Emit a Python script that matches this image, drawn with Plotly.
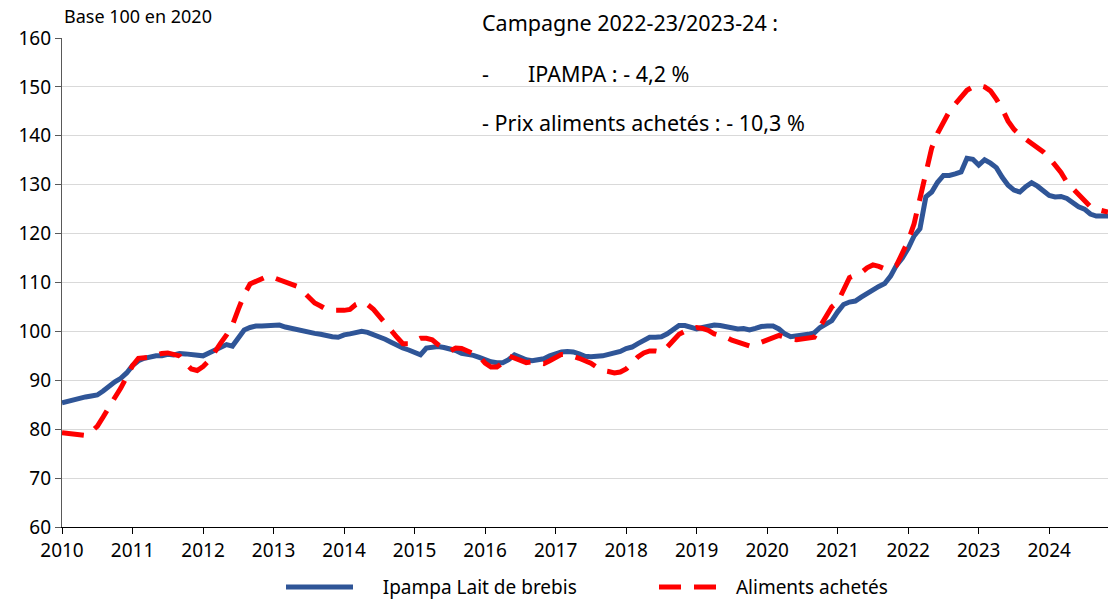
import plotly.graph_objects as go

# Monthly data, Jan 2010 .. Nov 2024 (index = months since Jan 2010)
years = list(range(2010, 2025))
tick_labels = [str(y) for y in years]

ipampa = [
    85.4, 85.7, 86.0, 86.5, 86.6, 86.8, 87.0, 87.8, 88.8, 89.7, 90.4, 91.5,   # 2010
    93.0, 94.0, 94.5, 94.8, 95.0, 95.0, 95.3, 95.2, 95.5, 95.4, 95.3, 95.2,   # 2011
    95.0, 95.6, 96.2, 96.8, 97.3, 97.0, 98.5, 100.3, 100.8, 101.1, 101.1, 101.1,  # 2012
    101.2, 101.3, 100.9, 100.6, 100.3, 100.0, 99.8, 99.6, 99.4, 99.1, 98.9, 98.8,  # 2013
    99.3, 99.5, 99.8, 100.0, 99.8, 99.4, 98.9, 98.4, 97.8, 97.1, 96.6, 96.2,  # 2014
    95.6, 95.2, 96.6, 96.7, 96.9, 96.7, 96.4, 96.1, 95.5, 95.4, 95.1, 94.7,  # 2015
    94.2, 93.8, 93.6, 93.6, 94.2, 95.2, 94.7, 94.2, 94.0, 94.2, 94.4, 95.0,  # 2016
    95.4, 95.8, 95.9, 95.8, 95.4, 94.9, 94.8, 94.8, 95.0, 95.3, 95.5, 95.9,  # 2017
    96.5, 96.8, 97.5, 98.2, 98.8, 98.8, 98.9, 99.5, 100.3, 101.2, 101.2, 100.8,  # 2018
    100.5, 100.8, 101.1, 101.3, 101.2, 100.9, 100.6, 100.5, 100.6, 100.3, 100.6, 101.0,  # 2019
    101.1, 101.1, 100.5, 99.5, 98.9, 99.0, 99.2, 99.4, 99.7, 100.8, 101.5, 102.2,  # 2020
    104.0, 105.5, 106.0, 106.2, 107.0, 107.8, 108.7, 109.2, 109.8, 111.3, 113.5, 115.0,  # 2021
    117.0, 119.5, 121.0, 127.5, 128.5, 130.5, 131.9, 131.9, 132.2, 132.6, 135.4, 135.2,  # 2022
    134.0, 135.1, 134.4, 133.5, 131.5, 129.9, 128.9, 128.5, 129.6, 130.4, 129.7, 128.8,  # 2023
    127.8, 127.5, 127.6, 127.2, 126.2, 125.5, 125.0, 124.0, 123.6, 123.6, 123.6,  # 2024
]

aliments = [
    79.3, 79.2, 79.0, 78.8, 78.7, 79.5, 80.6, 82.5, 84.3, 86.5, 88.4, 91.0,   # 2010
    93.0, 94.5, 94.6, 94.7, 95.1, 95.5, 95.6, 95.3, 95.0, 93.5, 92.3, 92.0,   # 2011
    92.8, 94.0, 96.0, 97.6, 99.3, 101.3, 104.5, 107.5, 109.7, 110.2, 110.6, 111.3,  # 2012
    111.0, 110.5, 110.2, 109.7, 109.2, 108.2, 107.0, 105.8, 105.2, 104.5, 104.3, 104.2,  # 2013
    104.3, 104.5, 105.5, 106.0, 105.5, 104.5, 103.0, 101.5, 100.3, 98.8, 97.5, 97.5,  # 2014
    98.0, 98.6, 98.6, 98.3, 97.3, 96.5, 96.0, 96.6, 96.5, 96.0, 95.5, 94.9,  # 2015
    93.5, 92.7, 92.7, 93.6, 95.0, 94.5, 94.0, 93.6, 93.8, 93.6, 93.4, 94.0,  # 2016
    94.8, 95.3, 95.3, 95.0, 94.5, 94.0, 93.5, 92.7, 92.0, 91.8, 91.5, 91.7,  # 2017
    92.3, 93.5, 94.8, 95.6, 96.0, 96.0, 95.8, 96.8, 98.2, 99.4, 100.0, 100.5,  # 2018
    100.8, 100.6, 100.2, 99.5, 99.2, 98.8, 98.2, 97.8, 97.3, 97.0, 97.3, 97.8,  # 2019
    98.4, 98.8, 99.2, 98.8, 98.4, 98.3, 98.5, 98.6, 98.8, 101.0, 103.0, 105.0,  # 2020
    106.0, 108.5, 111.0, 111.5, 112.0, 113.0, 113.6, 113.3, 112.8, 113.0, 113.5, 116.0,  # 2021
    118.5, 122.0, 127.0, 133.0, 137.5, 140.5, 143.0, 145.0, 146.5, 148.0, 149.3, 150.0,  # 2022
    150.3, 150.0, 149.2, 147.5, 145.5, 143.0, 141.3, 140.2, 139.3, 138.5, 137.8, 136.7,  # 2023
    135.5, 134.0, 132.5, 130.5, 129.2, 127.8, 126.5, 125.5, 125.0, 124.6, 124.4,  # 2024
]

months = list(range(len(ipampa)))
tick_positions = [12 * i for i in range(len(years))]

FONT = "Noto Sans"
NB = "\u00a0"

fig = go.Figure()
fig.add_trace(go.Scatter(
    x=months, y=ipampa, mode="lines", name=NB * 5 + "Ipampa Lait de brebis",
    line=dict(color="#2F5597", width=5),
))
fig.add_trace(go.Scatter(
    x=months, y=aliments, mode="lines", name=NB + "Aliments achetés",
    line=dict(color="#FF0000", width=5, dash="22px,13px"),
))

fig.update_layout(
    width=1110, height=601,
    margin=dict(l=62, r=2, t=37.5, b=73.5, autoexpand=False),
    plot_bgcolor="white", paper_bgcolor="white",
    font=dict(family=FONT, size=19, color="#000000"),
    showlegend=True,
    legend=dict(
        orientation="h", x=(281 - 62) / 1046, xanchor="left", y=-0.123, yanchor="middle",
        font=dict(size=19), entrywidth=291, itemwidth=67,
    ),
    xaxis=dict(
        range=[0, len(months) - 1],
        tickvals=tick_positions, ticktext=tick_labels,
        showgrid=False, zeroline=False,
        showline=True, linecolor="#000000", linewidth=1.3,
        ticks="outside", ticklen=6, tickcolor="#000000",
        tickfont=dict(size=19),
    ),
    yaxis=dict(
        range=[60, 160], dtick=10, tick0=60,
        showgrid=True, gridcolor="#D9D9D9", gridwidth=1.3,
        zeroline=False,
        showline=True, linecolor="#595959", linewidth=1.3,
        ticks="outside", ticklen=6, tickcolor="#595959",
        tickfont=dict(size=19),
    ),
    annotations=[
        dict(text="Base 100 en 2020", xref="paper", yref="paper", x=0, y=1.044,
             xanchor="left", yanchor="middle", showarrow=False, font=dict(size=18)),
        dict(text="Campagne 2022-23/2023-24 :", xref="paper", yref="paper", x=0.3996, y=1.0316,
             xanchor="left", yanchor="middle", showarrow=False, font=dict(size=21.5)),
        dict(text="-" + NB * 7 + "IPAMPA : - 4,2 %", xref="paper", yref="paper", x=0.3996, y=0.9276,
             xanchor="left", yanchor="middle", showarrow=False, font=dict(size=21.5)),
        dict(text="- Prix aliments achetés : - 10,3 %", xref="paper", yref="paper", x=0.3996, y=0.8276,
             xanchor="left", yanchor="middle", showarrow=False, font=dict(size=21.5)),
    ],
)

fig.write_html(
    "out.html",
    config={"displayModeBar": False},
    post_script="document.body.style.margin='0px';document.body.style.padding='0px';",
)
